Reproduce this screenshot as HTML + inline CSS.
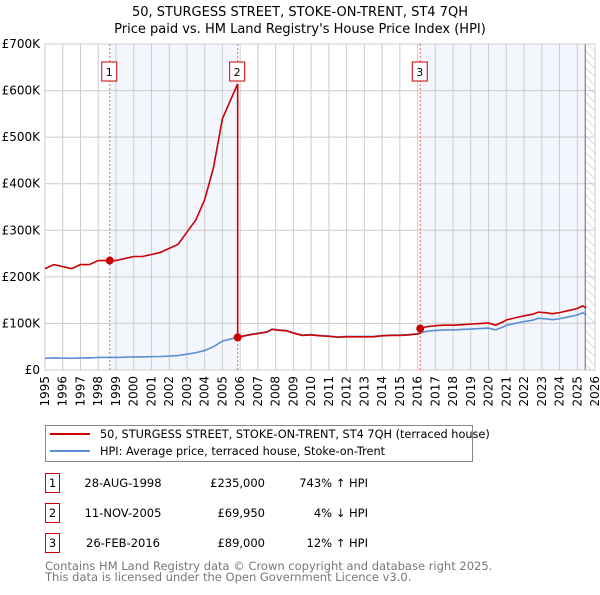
<!DOCTYPE html>
<html><head><meta charset="utf-8"><style>
body{margin:0;background:#fff;font-family:"Liberation Sans","DejaVu Sans",sans-serif;}
svg text{font-family:"DejaVu Sans","Liberation Sans",sans-serif;}
</style></head><body>
<svg id="c" width="600" height="590" xmlns="http://www.w3.org/2000/svg">
<defs><pattern id="hatch" width="6" height="6" patternUnits="userSpaceOnUse" patternTransform="rotate(-45)"><line x1="0" y1="0" x2="0" y2="6" stroke="#bbb" stroke-width="1"/></pattern></defs>
<text x="300" y="16" text-anchor="middle" font-size="13">50, STURGESS STREET, STOKE-ON-TRENT, ST4 7QH</text>
<text x="300" y="33" text-anchor="middle" font-size="13">Price paid vs. HM Land Registry's House Price Index (HPI)</text>
<g id="plot"></g>
<g>
<rect x="45.5" y="425.5" width="427" height="36" fill="#fff" stroke="#888"/>
<line x1="50" y1="434" x2="90" y2="434" stroke="#cc0000" stroke-width="2"/>
<text x="100" y="438" font-size="11.3">50, STURGESS STREET, STOKE-ON-TRENT, ST4 7QH (terraced house)</text>
<line x1="50" y1="451" x2="90" y2="451" stroke="#5b8fd4" stroke-width="2"/>
<text x="100" y="455" font-size="11.3">HPI: Average price, terraced house, Stoke-on-Trent</text>
</g>
<g id="table" font-size="11.5"></g>
<text x="45" y="570" font-size="11.5" fill="#777">Contains HM Land Registry data © Crown copyright and database right 2025.</text>
<text x="45" y="581" font-size="11.5" fill="#777">This data is licensed under the Open Government Licence v3.0.</text>
</svg>
<script>
const hpiYears=[1995,1995.5,1996,1996.5,1997,1997.5,1998,1998.5,1999,1999.5,2000,2000.5,2001,2001.5,2002,2002.5,2003,2003.5,2004,2004.5,2005,2005.5,2006,2006.5,2007,2007.5,2007.8,2008.2,2008.6,2009,2009.5,2010,2010.5,2011,2011.5,2012,2012.5,2013,2013.5,2014,2014.5,2015,2015.5,2016,2016.5,2017,2017.5,2018,2018.5,2019,2019.5,2020,2020.4,2020.8,2021,2021.5,2022,2022.5,2022.8,2023.2,2023.6,2024,2024.5,2025,2025.3,2025.5];
const hpiValues=[25,26,25.5,25,26,26,27,27,27,27.5,28,28,28.5,29,30,31,34,37,42,50,62,67,72,76,79,82,88,86,85,80,75,76,74,73,71,72,72,72,72,74,75,75,76,78,83,85,86,86,87,88,89,90,86,92,96,100,104,107,111,110,108,110,114,118,123,119];
const sales=[{n:"1",t:1998.65,p:235000,date:"28-AUG-1998",price:"£235,000",rel:"743% ↑ HPI"},{n:"2",t:2005.86,p:69950,date:"11-NOV-2005",price:"£69,950",rel:"4% ↓ HPI"},{n:"3",t:2016.15,p:89000,date:"26-FEB-2016",price:"£89,000",rel:"12% ↑ HPI"}];
const yTicks=[0,100,200,300,400,500,600,700];
const yTickLabels=["£0","£100K","£200K","£300K","£400K","£500K","£600K","£700K"];
const xTicks=[];for(let y=1995;y<=2026;y++)xTicks.push(y);

const X0=45,X1=595,Y0=370,Y1=44,T0=1995,T1=2026,VMAX=700,TEND=2025.45;
const xs=t=>X0+(t-T0)/(T1-T0)*(X1-X0);
const ys=v=>Y0-v/VMAX*(Y0-Y1);
const NS="http://www.w3.org/2000/svg";
const plot=document.getElementById('plot');
function mk(tag,attrs,parent){const e=document.createElementNS(NS,tag);for(const k in attrs)e.setAttribute(k,attrs[k]);(parent||plot).appendChild(e);return e;}
function hpiAt(t){for(let i=0;i<hpiYears.length-1;i++){if(t>=hpiYears[i]&&t<=hpiYears[i+1]){const f=(t-hpiYears[i])/(hpiYears[i+1]-hpiYears[i]);return hpiValues[i]+f*(hpiValues[i+1]-hpiValues[i]);}}return hpiValues[hpiValues.length-1];}

const sh1=mk('rect',{x:xs(sales[0].t),y:Y1,width:xs(sales[1].t)-xs(sales[0].t),height:Y0-Y1,fill:'#f3f6fd'});


const sh2=mk('rect',{x:xs(sales[2].t),y:Y1,width:xs(TEND)-xs(sales[2].t),height:Y0-Y1,fill:'#f3f6fd'});


const hz=mk('rect',{x:xs(TEND),y:Y1,width:X1-xs(TEND),height:Y0-Y1,fill:'url(#hatch)'});


xTicks.forEach(t=>{const l=mk('line',{x1:xs(t),x2:xs(t),y1:Y1,y2:Y0,stroke:'#ccc','stroke-width':1});


const tx=mk('text',{x:0,y:0,'font-size':12,'text-anchor':'end',transform:`translate(${xs(t)+4},${Y0+6}) rotate(-90)`});tx.textContent=t;

});
yTicks.forEach((v,i)=>{const l=mk('line',{x1:X0,x2:X1,y1:ys(v),y2:ys(v),stroke:'#ccc','stroke-width':1});


const tx=mk('text',{x:40,y:ys(v)+4,'font-size':12,'text-anchor':'end'});tx.textContent=yTickLabels[i];

});
const vl=mk('line',{x1:xs(TEND),x2:xs(TEND),y1:Y1,y2:Y0,stroke:'#666','stroke-width':1});


mk('rect',{x:X0,y:Y1,width:X1-X0,height:Y0-Y1,fill:'none',stroke:'#ccc'});
sales.forEach(s=>{const l=mk('line',{x1:xs(s.t),x2:xs(s.t),y1:Y1,y2:Y0,stroke:'#f06060','stroke-width':1,'stroke-dasharray':'2,2'});


const r=mk('rect',{x:xs(s.t)-8,y:62,width:15,height:19,fill:'#fff',stroke:'#cc0000'});


const tx=mk('text',{x:xs(s.t)-0.5,y:76,'font-size':11,'text-anchor':'middle'});tx.textContent=s.n;

});
const hp=mk('polyline',{points:hpiYears.map((t,i)=>xs(t)+','+ys(hpiValues[i])).join(' '),fill:'none',stroke:'#5b8fd4','stroke-width':1.6});


function factorIdx(t){let k=0;for(let i=0;i<sales.length;i++)if(t>=sales[i].t)k=i;return k;}
const fac=sales.map(s=>s.p/1000/hpiAt(s.t));
const pts=[];
const allT=hpiYears.concat(sales.map(s=>s.t)).sort((a,b)=>a-b);
allT.forEach(t=>{const h=hpiAt(t);const si=sales.findIndex(s=>s.t===t);
if(si>0){pts.push([t,h*fac[si-1]]);pts.push([t,h*fac[si]]);}else pts.push([t,h*fac[factorIdx(t)]]);});
const pl=mk('polyline',{points:pts.map(p=>xs(p[0])+','+ys(p[1])).join(' '),fill:'none',stroke:'#cc0000','stroke-width':1.6});


sales.forEach(s=>{const c=mk('circle',{cx:xs(s.t),cy:ys(s.p/1000),r:4,fill:'#cc0000'});

});
const tb=document.getElementById('table');
sales.forEach((s,i)=>{const y=483+i*30;
const r=mk('rect',{x:45.5,y:y-9.5,width:14,height:19,fill:'#fff',stroke:'#cc0000'},tb);


const cells=[[52.5,s.n,'middle'],[123,s.date,'middle'],[265,s.price,'end'],[368,s.rel,'end']];
cells.forEach(c=>{const tx=mk('text',{x:c[0],y:y+4,'text-anchor':c[2]},tb);tx.textContent=c[1];

});});
</script>
</body></html>
